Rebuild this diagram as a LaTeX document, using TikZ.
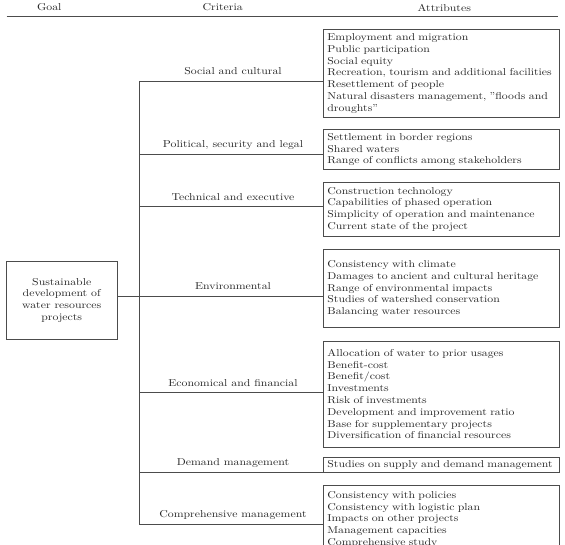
\documentclass[tikz,border=0pt]{standalone}
\usepackage{fontspec}
\setmainfont{lmroman10-regular.otf}[FakeStretch=1.18]
\begin{document}
\begin{tikzpicture}[x=1pt,y=-1pt,
  ln/.style={draw=black!70, line width=0.8pt},
  txt/.style={font=\fontsize{10}{11.8}\selectfont, text=black!85},
  attr/.style={txt, draw=black!70, line width=0.8pt, anchor=north west,
    minimum width=236.5pt, text width=227.5pt, inner xsep=4.5pt, inner ysep=0pt, align=left},
  crit/.style={txt, anchor=base, inner sep=0pt},
  head/.style={txt, inner sep=0pt}]
\useasboundingbox (0,0) rectangle (565,545);
% header
\node[head] (hg) at (49.3,7.5) {Goal};
\node[head] (hc) at (222.7,7.5) {Criteria};
\node[head] (ha) at (444.3,7.5) {Attributes};
\coordinate (hl) at (6.7,16.5);
\coordinate (hr) at (558.3,16.5);
\draw[draw=black!70, line width=1pt] (hl) -- (hr);
% goal
\node[txt, draw=black!70, line width=0.8pt, anchor=north west, minimum width=110.7pt,
  minimum height=78pt, align=center, inner sep=0pt] (goal) at (6,261)
  {Sustainable\\development of\\water resources\\projects};
% attribute boxes
\node[attr, minimum height=87.4pt] (b1) at (322.5,29.3) {Employment and migration\\Public participation\\Social equity\\Recreation, tourism and additional facilities\\Resettlement of people\\Natural disasters management, ”floods and\\droughts”};
\node[attr, minimum height=40pt] (b2) at (322.5,129.3) {Settlement in border regions\\Shared waters\\Range of conflicts among stakeholders};
\node[attr, minimum height=54.3pt] (b3) at (322.5,181.7) {Construction technology\\Capabilities of phased operation\\Simplicity of operation and maintenance\\Current state of the project};
\node[attr, minimum height=78.3pt] (b4) at (322.5,249) {Consistency with climate\\Damages to ancient and cultural heritage\\Range of environmental impacts\\Studies of watershed conservation\\Balancing water resources};
\node[attr, minimum height=106pt] (b5) at (322.5,340.7) {Allocation of water to prior usages\\Benefit-cost\\Benefit/cost\\Investments\\Risk of investments\\Development and improvement ratio\\Base for supplementary projects\\Diversification of financial resources};
\node[attr, minimum height=15pt] (b6) at (322.5,456.7) {Studies on supply and demand management};
\node[attr, minimum height=68pt] (b7) at (322.5,485) {Consistency with policies\\Consistency with logistic plan\\Impacts on other projects\\Management capacities\\Comprehensive study};
% trunk junctions
\coordinate (j1) at (139.3,81);
\coordinate (j2) at (139.3,154);
\coordinate (j3) at (139.3,206.7);
\coordinate (j4) at (139.3,296);
\coordinate (j5) at (139.3,392.7);
\coordinate (j6) at (139.3,472);
\coordinate (j7) at (139.3,524);
\draw[ln] (j1) -- (j7);
\draw[ln] (goal.east |- j4) -- (j4);
\foreach \i in {1,...,7} {\draw[ln] (j\i) -- (j\i -| b\i.west);}
% criteria labels
\node[crit] (c1) at (233,74.5) {Social and cultural};
\node[crit] (c2) at (233,147.5) {Political, security and legal};
\node[crit] (c3) at (233,200.2) {Technical and executive};
\node[crit] (c4) at (233,289.5) {Environmental};
\node[crit] (c5) at (233,386.2) {Economical and financial};
\node[crit] (c6) at (233,465.5) {Demand management};
\node[crit] (c7) at (233,517.5) {Comprehensive management};
\end{tikzpicture}
\end{document}
